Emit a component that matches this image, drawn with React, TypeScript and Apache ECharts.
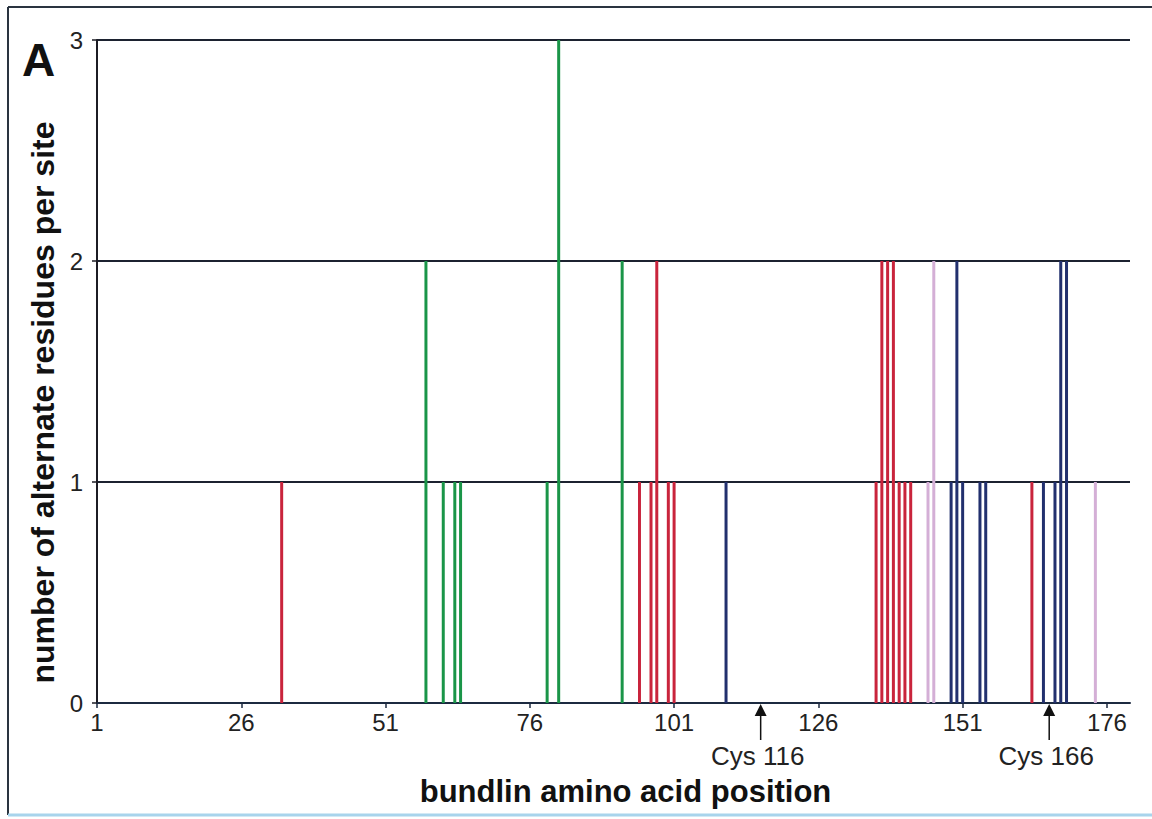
import React, { useEffect, useRef } from "react";
import * as echarts from "echarts";

const xTickLabels = [1, 26, 51, 76, 101, 126, 151, 176];
const yTickLabels = [0, 1, 2, 3];

const redPos = [33, 95, 97, 98, 100, 101, 136, 137, 138, 139, 140, 141, 142, 163];
const redVal = [1, 1, 1, 2, 1, 1, 1, 2, 2, 2, 1, 1, 1, 1];
const greenPos = [58, 61, 63, 64, 79, 81, 92];
const greenVal = [2, 1, 1, 1, 1, 3, 2];
const bluePos = [110, 149, 150, 151, 154, 155, 165, 167, 168, 169];
const blueVal = [1, 1, 2, 1, 1, 1, 1, 1, 2, 2];
const pinkPos = [145, 146, 174];
const pinkVal = [1, 2, 1];

const cysSites = [116, 166];
const cysLabels = ["Cys 116", "Cys 166"];

const FONT = "'Liberation Sans', Arial, sans-serif";

function pairs(p: number[], v: number[]) {
  return p.map((x, i) => [x, v[i]]);
}

export default function App() {
  const ref = useRef<HTMLDivElement>(null);
  useEffect(() => {
    const chart = echarts.init(ref.current!, null, { renderer: "svg" });
    const barSeries = (name: string, data: number[][], color: string, w: number) => ({
      name,
      type: "bar",
      data,
      barWidth: w,
      barGap: "-100%",
      itemStyle: { color },
      z: 3,
    });
    chart.setOption({
      animation: false,
      backgroundColor: "#ffffff",
      grid: { left: 97, right: 22, top: 40, bottom: 116 },
      xAxis: {
        type: "value",
        min: 1,
        max: 180,
        name: "bundlin amino acid position",
        nameLocation: "middle",
        nameGap: 73,
        nameTextStyle: {
          fontFamily: FONT,
          fontSize: 31,
          fontWeight: "bold",
          color: "#111",
          padding: [0, 0, 0, 24],
        },
        axisLine: { show: true, lineStyle: { color: "#1c2a40", width: 2 } },
        axisTick: { show: true, customValues: xTickLabels, length: 5, lineStyle: { color: "#1c2a40", width: 1.5 } },
        axisLabel: { customValues: xTickLabels, fontFamily: FONT, fontSize: 24, color: "#222", margin: 7 },
        splitLine: { show: false },
      },
      yAxis: {
        type: "value",
        min: 0,
        max: 3,
        interval: 1,
        name: "number of alternate residues per site",
        nameLocation: "middle",
        nameGap: 38,
        nameTextStyle: {
          fontFamily: FONT,
          fontSize: 32,
          fontWeight: "bold",
          color: "#111",
          padding: [0, 62, 0, 0],
        },
        axisLine: { show: true, lineStyle: { color: "#1c1c24", width: 2 } },
        axisTick: { show: true, length: 5, lineStyle: { color: "#1c1c24", width: 1.5 } },
        axisLabel: {
          fontFamily: FONT,
          fontSize: 24,
          color: "#222",
          margin: 14,
          formatter: (v: number) => (yTickLabels.includes(v) ? String(v) : ""),
        },
        splitLine: { show: true, lineStyle: { color: "#1c2230", width: 2 } },
      },
      series: [
        barSeries("red", pairs(redPos, redVal), "#c9243c", 3),
        barSeries("green", pairs(greenPos, greenVal), "#1a9548", 3),
        barSeries("blue", pairs(bluePos, blueVal), "#22306e", 3),
        barSeries("pink", pairs(pinkPos, pinkVal), "#d4afd6", 3),
      ],
    });

    const y0 = chart.convertToPixel({ yAxisIndex: 0 }, 0) as number;
    const graphics: any[] = [
      { type: "line", shape: { x1: 8, y1: 7, x2: 1152, y2: 7 }, style: { stroke: "#2a3440", lineWidth: 2 } },
      { type: "line", shape: { x1: 8, y1: 7, x2: 8, y2: 815 }, style: { stroke: "#2a3440", lineWidth: 2 } },
      { type: "line", shape: { x1: 8, y1: 815, x2: 1152, y2: 815 }, style: { stroke: "#a8d4ec", lineWidth: 3 } },
      {
        type: "text",
        left: 22,
        top: 37,
        style: { text: "A", fontFamily: FONT, fontSize: 46, fontWeight: "bold", fill: "#111" },
      },
    ];
    cysSites.forEach((site, i) => {
      const px = chart.convertToPixel({ xAxisIndex: 0 }, site) as number;
      graphics.push({
        type: "polygon",
        shape: { points: [[px, y0 + 1], [px - 6, y0 + 13], [px + 6, y0 + 13]] },
        style: { fill: "#111" },
      });
      graphics.push({
        type: "line",
        shape: { x1: px, y1: y0 + 12, x2: px, y2: y0 + 37 },
        style: { stroke: "#111", lineWidth: 1.5 },
      });
      graphics.push({
        type: "text",
        x: px - 3,
        y: y0 + 53,
        style: {
          text: cysLabels[i],
          fontFamily: FONT,
          fontSize: 26,
          fill: "#222",
          align: "center",
          verticalAlign: "middle",
        },
      });
    });
    chart.setOption({ graphic: graphics });
    return () => chart.dispose();
  }, []);
  return (
    <div
      ref={ref}
      style={{ position: "fixed", left: 0, top: 0, width: 1152, height: 819, background: "#fff" }}
    />
  );
}
